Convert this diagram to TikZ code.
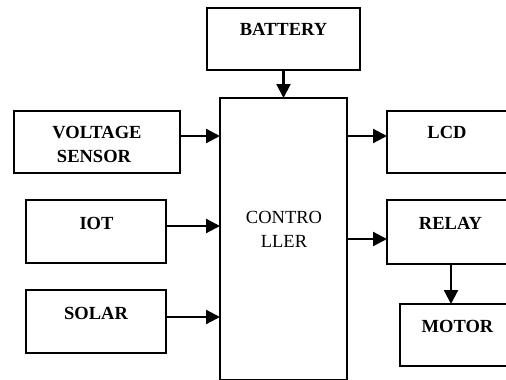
\documentclass[tikz,border=0pt]{standalone}
\usepackage{fontspec}
\setmainfont{Liberation Serif}
\usetikzlibrary{arrows.meta}
\begin{document}
\begin{tikzpicture}[x=1pt,y=-1pt,
  box/.style={draw,line width=2.2pt,inner sep=0pt,outer sep=0pt},
  lbl/.style={anchor=base,inner sep=0pt,font=\fontsize{18.5}{24}\selectfont\bfseries},
  clbl/.style={anchor=base,inner sep=0pt,font=\fontsize{18.5}{24}\selectfont},
  arr/.style={line width=2.2pt,-{Triangle[length=14pt,width=14pt]}}]
\useasboundingbox (0,0) rectangle (506,380);
\clip (0,0) rectangle (506,380);
% boxes
\node[box,minimum width=153pt,minimum height=62pt] (bat) at (283.5,39) {};
\node[box,minimum width=127pt,minimum height=282pt] (ctrl) at (283.5,239) {};
\node[box,minimum width=166pt,minimum height=62pt] (vs) at (97,142) {};
\node[box,minimum width=121pt,minimum height=62pt] (lcd) at (447.5,142) {};
\node[box,minimum width=140pt,minimum height=63pt] (iot) at (96,231.5) {};
\node[box,minimum width=140pt,minimum height=63pt] (sol) at (96,321.5) {};
\node[box,minimum width=128pt,minimum height=64pt] (rel) at (451,232) {};
\node[box,minimum width=116pt,minimum height=62pt] (mot) at (458,335) {};
% texts
\node[lbl] (tbat) at (283.5,35) {BATTERY};
\node[lbl] (tvs1) at (97,138) {VOLTAGE};
\node[lbl] (tvs2) at (94,162) {SENSOR};
\node[lbl] (tlcd) at (447,138) {LCD};
\node[lbl] (tiot) at (96.5,229) {IOT};
\node[lbl] (tsol) at (96,319) {SOLAR};
\node[lbl] (trel) at (450.5,229) {RELAY};
\node[lbl] (tmot) at (457.5,332) {MOTOR};
\node[clbl] (tc1) at (284,223) {CONTRO};
\node[clbl] (tc2) at (284,247) {LLER};
% arrows
\draw[arr] (bat.south) -- (ctrl.north);
\draw[arr] (vs.east |- 0,136) -- (ctrl.west |- 0,136);
\draw[arr] (iot.east |- 0,226) -- (ctrl.west |- 0,226);
\draw[arr] (sol.east |- 0,317) -- (ctrl.west |- 0,317);
\draw[arr] (ctrl.east |- 0,136) -- (lcd.west |- 0,136);
\draw[arr] (ctrl.east |- 0,239) -- (rel.west |- 0,239);
\draw[arr] (rel.south -| 451,0) -- (mot.north -| 451,0);
\end{tikzpicture}
\end{document}
